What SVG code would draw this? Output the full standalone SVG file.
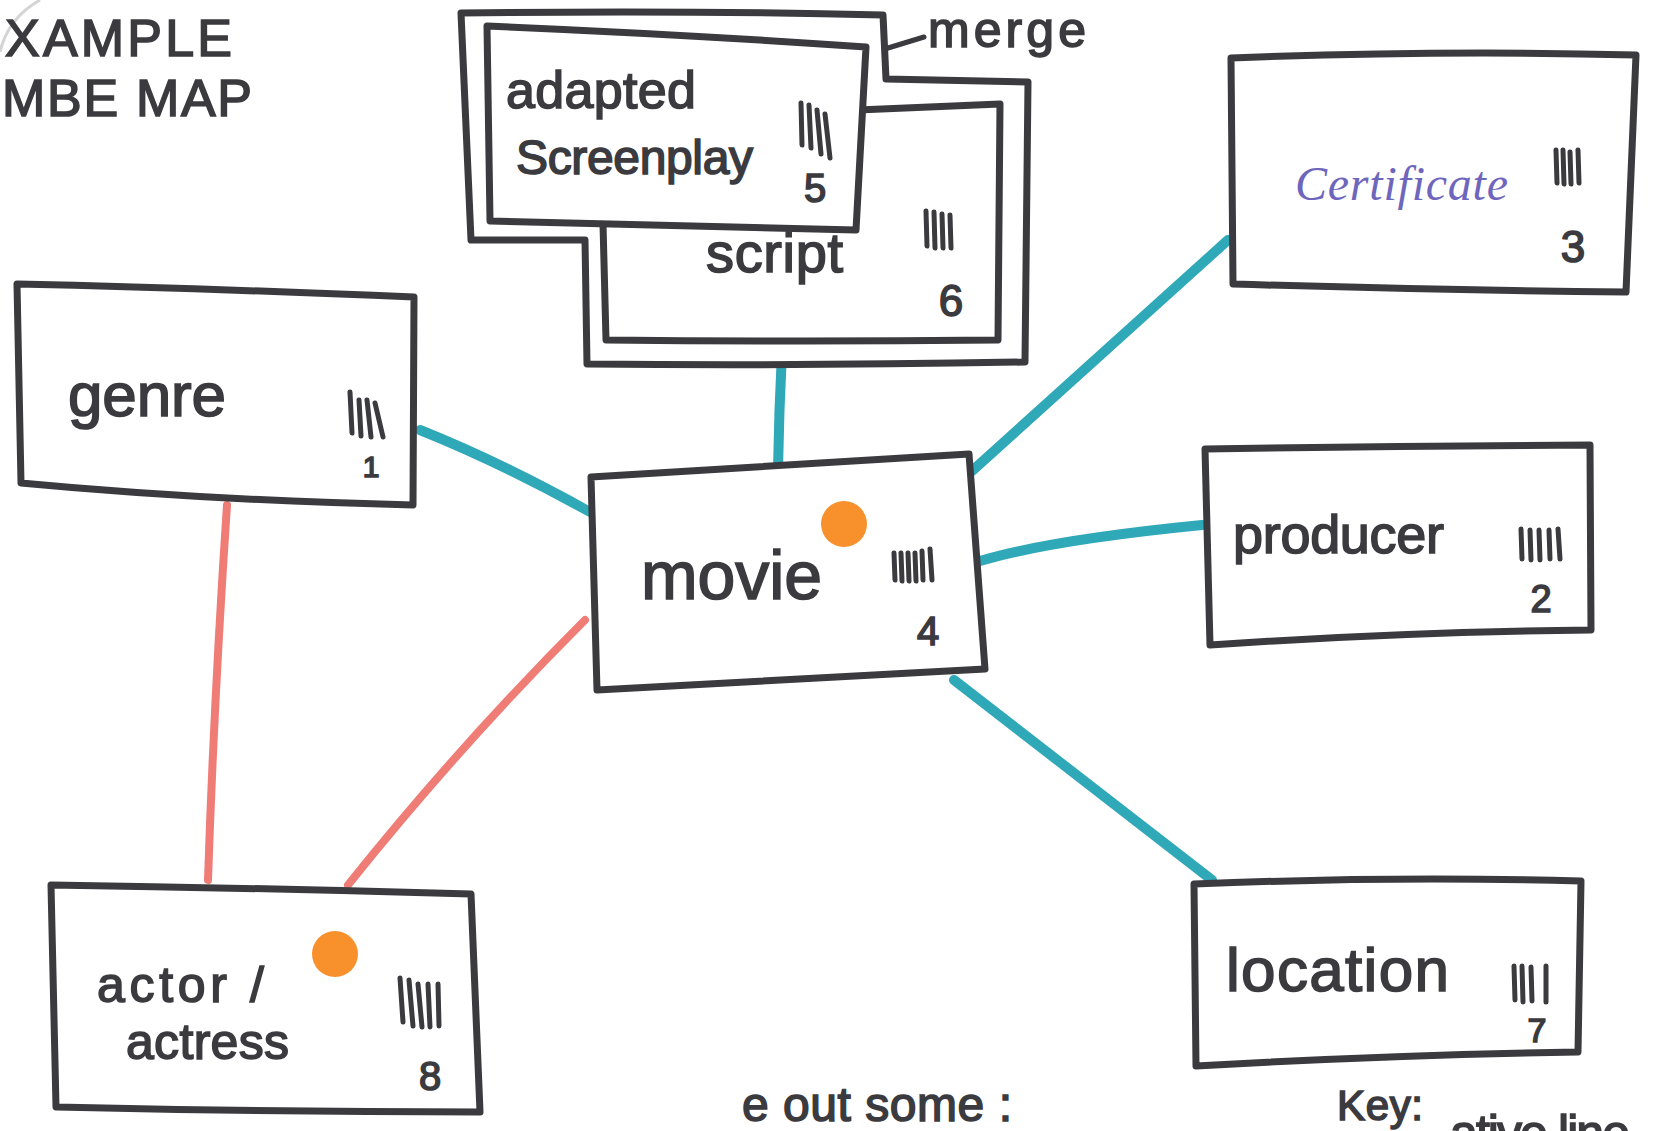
<svg xmlns="http://www.w3.org/2000/svg" width="1653" height="1131" viewBox="0 0 1653 1131">
<style>
.box{fill:#fff;stroke:#3b3b3f;stroke-width:7;stroke-linejoin:round;stroke-linecap:round}
.t{font-family:"Liberation Sans","DejaVu Sans",sans-serif;fill:#3b3b3f;stroke:#3b3b3f;stroke-width:1.6}
.n{font-family:"Liberation Sans","DejaVu Sans",sans-serif;fill:#3b3b3f;stroke:#3b3b3f;stroke-width:1.6;text-anchor:middle}
.tally{stroke:#3b3b3f;stroke-width:5;stroke-linecap:round;fill:none}
.teal{stroke:#2fa8b8;stroke-width:10;stroke-linecap:round;fill:none}
.red{stroke:#f07c76;stroke-width:8;stroke-linecap:round;fill:none}
.dot{fill:#f8902b}
</style>
<rect width="1653" height="1131" fill="#ffffff"/>
<path d="M0,52 Q8,18 40,0" fill="none" stroke="#d4d4d4" stroke-width="3"/>

<g id="title">
<text class="t" x="5" y="56" font-size="52" textLength="227">XAMPLE</text>
<text class="t" x="2" y="116" font-size="52" textLength="250">MBE MAP</text>
</g>

<g id="connectors">
<path class="teal" d="M420,430 Q500,462 590,512"/>
<path class="teal" d="M782,352 Q779,410 778,469"/>
<path class="teal" d="M972,471 L1228,240"/>
<path class="teal" d="M980,561 Q1050,540 1202,525"/>
<path class="teal" d="M954,680 L1212,880"/>
<path class="red" d="M227,505 Q214,700 208,880"/>
<path class="red" d="M585,620 Q460,745 348,885"/>
</g>

<g id="merge">
<path class="box" d="M461,13 Q680,10 883,15 L886,79 L1028,82 L1025,362 Q800,366 587,364 L585,240 L471,240 Z"/>
<path d="M888,48 L924,37" class="tally" stroke-width="6"/>
<text class="t" x="928" y="47" font-size="50" textLength="158">merge</text>
</g>

<g id="script">
<path class="box" d="M600,107 L858,110 L1000,104 L998,340 Q800,342 606,340 Z"/>
<text class="t" x="706" y="272" font-size="56" textLength="137">script</text>
<path class="tally" d="M926,211 L927,246 M934,212 L935,248 M942,214 L943,248 M950,215 L951,248"/>
<text class="n" x="951" y="316" font-size="44">6</text>
</g>

<g id="adapted-screenplay">
<path class="box" d="M487,26 Q680,34 866,47 L856,230 Q670,226 490,221 Z"/>
<text class="t" x="506" y="108" font-size="52" textLength="190">adapted</text>
<text class="t" x="516" y="174" font-size="48" textLength="237">Screenplay</text>
<path class="tally" d="M801,103 L802,145 M809,105 L811,148 M817,110 L821,154 M825,114 L830,158"/>
<text class="n" x="815" y="202" font-size="40">5</text>
</g>

<g id="certificate">
<path class="box" d="M1231,58 Q1440,50 1636,55 L1626,292 Q1430,290 1233,284 Z"/>
<text x="1295" y="200" font-size="48" textLength="213" font-family="'Liberation Serif','DejaVu Serif',serif" font-style="italic" fill="#6e66bd">Certificate</text>
<path class="tally" d="M1556,150 L1557,183 M1563,150 L1564,184 M1570,152 L1571,184 M1578,150 L1579,183" stroke-width="6"/>
<text class="n" x="1573" y="262" font-size="44">3</text>
</g>

<g id="genre">
<path class="box" d="M17,284 Q200,288 414,297 L413,505 Q200,500 21,483 Z"/>
<text class="t" x="68" y="416" font-size="62" textLength="158">genre</text>
<path class="tally" d="M350,392 L352,433 M359,400 L361,436 M367,400 L371,437 M375,403 L383,437"/>
<text class="n" x="371" y="477" font-size="30">1</text>
</g>

<g id="movie">
<path class="box" d="M591,477 Q780,466 969,454 L985,669 Q790,680 597,690 Z"/>
<text class="t" x="641" y="599" font-size="68" textLength="181">movie</text>
<circle class="dot" cx="844" cy="524" r="23"/>
<path class="tally" d="M894,553 L895,580 M901,553 L902,581 M908,553 L909,581 M915,553 L916,581 M922,551 L923,580 M930,549 L932,580"/>
<text class="n" x="928" y="645" font-size="40">4</text>
</g>

<g id="producer">
<path class="box" d="M1205,449 Q1400,446 1590,445 L1591,630 Q1400,632 1210,645 Z"/>
<text class="t" x="1233" y="553" font-size="54" textLength="211">producer</text>
<path class="tally" d="M1521,529 L1522,559 M1530,530 L1531,560 M1539,530 L1540,560 M1549,530 L1550,559 M1558,529 L1560,559"/>
<text class="n" x="1541" y="612" font-size="38">2</text>
</g>

<g id="location">
<path class="box" d="M1194,884 Q1390,876 1581,881 L1578,1052 Q1390,1055 1196,1066 Z"/>
<text class="t" x="1226" y="991" font-size="62" textLength="223">location</text>
<path class="tally" d="M1514,966 L1515,1000 M1522,966 L1523,1002 M1531,967 L1532,1001 M1546,966 L1546,1002"/>
<text class="n" x="1537" y="1042" font-size="34">7</text>
</g>

<g id="actor-actress">
<path class="box" d="M51,885 Q260,888 471,894 L480,1112 Q270,1112 56,1107 Z"/>
<text class="t" x="97" y="1002" font-size="50" textLength="167">actor /</text>
<text class="t" x="126" y="1059" font-size="50" textLength="163">actress</text>
<circle class="dot" cx="335" cy="954" r="23"/>
<path class="tally" d="M400,978 L403,1022 M409,980 L413,1026 M418,984 L422,1027 M428,984 L430,1027 M438,984 L439,1026"/>
<text class="n" x="430" y="1090" font-size="40">8</text>
</g>

<g id="notes">
<text class="t" x="742" y="1121" font-size="48" textLength="270">e out some :</text>
<text class="t" x="1337" y="1120" font-size="42" textLength="86">Key:</text>
<text class="t" x="1450" y="1150" font-size="50" textLength="180">ative line</text>
</g>
</svg>
